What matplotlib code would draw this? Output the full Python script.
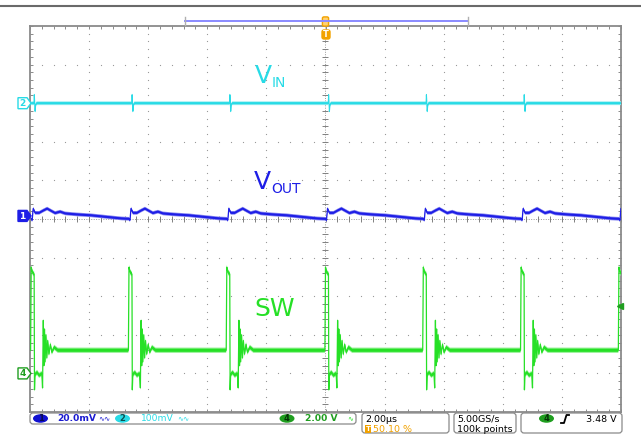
import matplotlib
matplotlib.use('Agg')
import matplotlib.pyplot as plt
import numpy as np
from matplotlib.patches import FancyBboxPatch, Polygon, Ellipse, Rectangle

# ---------------- data ----------------
time_per_div_us = 2.0          # horizontal scale
ch1_mv_per_div = 20.0          # VOUT
ch2_mv_per_div = 100.0         # VIN
ch4_v_per_div = 2.0            # SW
ch1_pos_div = 0.08             # ground-marker positions (divisions from centre)
ch2_pos_div = 3.0
ch4_pos_div = -4.0
trigger_level_v = 3.48

# rising edges of the switch node (us)
sw_edges_us = [-9.96, -6.65, -3.34, 0.0, 3.31, 6.62, 9.93]

# one switching cycle of SW (time after rising edge in us, volts)
sw_cycle_t = [-0.02, 0.0, 0.02, 0.06, 0.10, 0.112, 0.13, 0.20, 0.27, 0.36, 0.385,
              0.41, 0.43, 0.45, 0.47, 0.50, 0.53, 0.56, 0.60, 0.65, 0.70, 0.78, 0.90, 3.29]
sw_cycle_v = [1.2, 5.5, 5.35, 5.2, 5.15, -0.85, -0.05, 0.05, -0.1, 0.0, -0.75,
              2.75, 0.4, 2.3, 0.6, 2.0, 0.8, 1.7, 1.0, 1.5, 1.1, 1.35, 1.2, 1.2]
sw_noise_v = 0.14

# one cycle of VOUT (us, mV, AC coupled)
vout_cycle_t = [0.0, 0.034, 0.068, 0.135, 0.27, 0.41, 0.54, 0.68, 0.81, 0.98,
                1.15, 1.52, 2.03, 2.54, 3.05, 3.31]
vout_cycle_mv = [-1.5, -2.2, 3.8, 1.6, 1.6, 2.8, 3.8, 2.6, 1.5, 2.2,
                 1.3, 0.8, 0.3, -0.5, -1.3, -1.5]
vout_noise_mv = 0.95

# one cycle of VIN (us, mV, AC coupled)
vin_cycle_t = [0.0, 0.095, 0.105, 0.118, 0.132, 0.152, 0.186, 3.31]
vin_cycle_mv = [0.0, 0.0, 22.0, 3.0, -21.0, -4.0, 0.0, 0.0]
vin_noise_mv = 5.0

labels = {'VIN': ('V', 'IN'), 'VOUT': ('V', 'OUT'), 'SW': ('SW', '')}

# ---------------- colours ----------------
C_BLUE = '#1e1ee6'
C_CYAN = '#28dbe6'
C_GREEN = '#26e026'
C_GREEN_D = '#1f9e1f'
C_ORANGE = '#f2a200'
C_GRID = '#9a9a9a'
C_BORDER = '#8a8a8a'

W, H = 641, 437
fig = plt.figure(figsize=(W / 100, H / 100), dpi=100)

L, T, R, B = 30, 26, 621, 412
rect = [L / W, 1 - B / H, (R - L) / W, (B - T) / H]

# ---------------- graticule ----------------
ax = fig.add_axes(rect)
ax.set_xlim(-5, 5)
ax.set_ylim(-5, 5)
ax.set_xticks([])
ax.set_yticks([])
ax.set_xticks(np.arange(-5, 5.01, 0.2), minor=True)
ax.set_yticks(np.arange(-5, 5.01, 0.2), minor=True)
ax.tick_params(which='minor', direction='in', length=2.2, width=0.7, color=C_BORDER,
               top=True, right=True, labelbottom=False, labelleft=False)
for s in ax.spines.values():
    s.set_color(C_BORDER)
    s.set_linewidth(1.3)

minor = np.arange(-5, 5.01, 0.2)
for k in range(-4, 5):
    if k == 0:
        continue
    ax.plot(np.full_like(minor, k), minor, ls='none', marker='s', ms=0.8,
            mec='none', mfc=C_GRID)
    ax.plot(minor, np.full_like(minor, k), ls='none', marker='s', ms=0.8,
            mec='none', mfc=C_GRID)
# centre cross with ticks
ax.plot([0, 0], [-5, 5], color='#9a9a9a', lw=0.7, ls=(0, (1, 1.5)))
ax.plot([-5, 5], [0, 0], color='#9a9a9a', lw=0.7, ls=(0, (1, 1.5)))
ax.plot(np.zeros_like(minor), minor, ls='none', marker='_', ms=4.3, mew=0.7, color='#808080')
ax.plot(minor, np.zeros_like(minor), ls='none', marker='|', ms=4.3, mew=0.7, color='#808080')


def cycles(edges, ct, cv):
    tt, vv = [], []
    for e in edges:
        tt.extend([e + x for x in ct])
        vv.extend(cv)
    return np.array(tt), np.array(vv)


def chan_axes(scale, pos):
    a = fig.add_axes(rect)
    a.patch.set_visible(False)
    a.set_axis_off()
    a.set_xlim(-5 * time_per_div_us, 5 * time_per_div_us)
    a.set_ylim((-5 - pos) * scale, (5 - pos) * scale)
    return a


# SW
a4 = chan_axes(ch4_v_per_div, ch4_pos_div)
t, v = cycles(sw_edges_us, sw_cycle_t, sw_cycle_v)
a4.fill_between(t, v - sw_noise_v, v + sw_noise_v, color='#9cf29c', lw=0)
a4.fill_between(t, v - sw_noise_v * 0.6, v + sw_noise_v * 0.6, color=C_GREEN, lw=0)
a4.plot(t, v, color=C_GREEN, lw=0.9)
a4.plot([9.96], [trigger_level_v], marker='<', ms=4, color=C_GREEN_D, clip_on=False)

# VOUT
a1 = chan_axes(ch1_mv_per_div, ch1_pos_div)
t, v = cycles(sw_edges_us, vout_cycle_t, vout_cycle_mv)
a1.fill_between(t, v - vout_noise_mv, v + vout_noise_mv, color='#8080f0', lw=0)
a1.fill_between(t, v - vout_noise_mv * 0.55, v + vout_noise_mv * 0.55, color=C_BLUE, lw=0)
a1.plot(t, v, color=C_BLUE, lw=0.9)

# VIN
a2 = chan_axes(ch2_mv_per_div, ch2_pos_div)
t, v = cycles(sw_edges_us, vin_cycle_t, vin_cycle_mv)
a2.fill_between(t, v - vin_noise_mv, v + vin_noise_mv, color='#a0eef2', lw=0)
a2.fill_between(t, v - vin_noise_mv * 0.55, v + vin_noise_mv * 0.55, color=C_CYAN, lw=0)
a2.plot(t, v, color=C_CYAN, lw=0.8)

# ---------------- overlay in pixel coordinates ----------------
ov = fig.add_axes([0, 0, 1, 1])
ov.set_xlim(0, W)
ov.set_ylim(H, 0)
ov.set_axis_off()
ov.patch.set_visible(False)

FONT = 'DejaVu Sans'

# top line
ov.plot([0, W], [6, 6], color='#6a6a6a', lw=1.5)
# record bar
ov.plot([185, 468], [21, 21], color='#8a8aff', lw=1.4)
ov.plot([185, 185], [17, 25], color='#b0b0b0', lw=1)
ov.plot([468, 468], [17, 25], color='#b0b0b0', lw=1)
ov.add_patch(FancyBboxPatch((323, 17.5), 5, 8, boxstyle='round,pad=0.6,rounding_size=1.5',
                            fc='#ffd070', ec=C_ORANGE, lw=1))
ov.add_patch(FancyBboxPatch((322.5, 30.5), 7, 8, boxstyle='round,pad=0.5,rounding_size=2',
                            fc=C_ORANGE, ec=C_ORANGE, lw=1))
ov.text(326, 34.8, 'T', color='white', fontsize=6, fontweight='bold', ha='center',
        va='center', family=FONT)

# channel labels
ov.text(255, 83, labels['VIN'][0], color=C_CYAN, fontsize=18, family=FONT, va='baseline')
ov.text(272, 87, labels['VIN'][1], color=C_CYAN, fontsize=10, family=FONT, va='baseline')
ov.text(254, 189, labels['VOUT'][0], color=C_BLUE, fontsize=18, family=FONT, va='baseline')
ov.text(271, 193, labels['VOUT'][1], color=C_BLUE, fontsize=10, family=FONT, va='baseline')
ov.text(254, 316, labels['SW'][0], color=C_GREEN, fontsize=18, family=FONT, va='baseline')


def y_of(pos_div):
    return (T + B) / 2 - pos_div * (B - T) / 10


def marker(y, num, col, filled):
    pts = [(18, y - 5.5), (27, y - 5.5), (31, y), (27, y + 5.5), (18, y + 5.5)]
    ov.add_patch(Polygon(pts, closed=True, fc=col if filled else 'white', ec=col, lw=1,
                         zorder=5))
    ov.text(22.5, y + 0.3, num, color='white' if filled else col, fontsize=6.5,
            fontweight='bold', ha='center', va='center', family=FONT, zorder=6)


marker(y_of(ch2_pos_div), '2', C_CYAN, False)
marker(y_of(ch1_pos_div), '1', C_BLUE, True)
marker(y_of(ch4_pos_div), '4', C_GREEN_D, False)

# ---------------- status bar ----------------
def box(x0, y0, x1, y1):
    ov.add_patch(FancyBboxPatch((x0 + 2, y0 + 2), x1 - x0 - 4, y1 - y0 - 4,
                                boxstyle='round,pad=2,rounding_size=3',
                                fc='white', ec='#8a8a8a', lw=0.9))


def badge(cx, cy, num, col, tcol='black'):
    ov.add_patch(Ellipse((cx, cy), 15, 8.5, fc=col, ec='none'))
    ov.text(cx, cy + 0.3, num, color=tcol, fontsize=6, fontweight='bold', ha='center',
            va='center', family=FONT)


box(30, 413, 356, 424)
box(362, 413, 449, 433)
box(454, 413, 516, 433)
box(521, 413, 622, 433)

badge(40.5, 418.5, '1', '#1010d0', '#0a0a50')
ov.text(57, 418.8, '20.0mV', color='#1a1ad0', fontsize=6.6, fontweight='bold',
        va='center', family=FONT)
ov.text(98, 418.5, '∿∿', color='#1a1ad0', fontsize=5.2, va='center', family=FONT)
badge(122.5, 418.5, '2', C_CYAN, '#0a5050')
ov.text(141, 418.8, '100mV', color=C_CYAN, fontsize=6.6, va='center', family=FONT)
ov.text(177, 418.5, '∿∿', color=C_CYAN, fontsize=5.2, va='center', family=FONT)
badge(287, 418.5, '4', C_GREEN_D, '#063006')
ov.text(305, 418.8, '2.00 V', color=C_GREEN_D, fontsize=6.6, fontweight='bold',
        va='center', family=FONT)
ov.text(347, 418.5, '∿', color=C_GREEN, fontsize=5, va='center', family=FONT)

ov.text(365, 419, '2.00µs', color='black', fontsize=6.8, va='center', family=FONT)
ov.add_patch(Rectangle((365, 425), 6, 8, fc=C_ORANGE, ec='none'))
ov.text(368, 429.2, 'T', color='white', fontsize=5, fontweight='bold', ha='center',
        va='center', family=FONT)
ov.text(373, 429.2, '50.10 %', color=C_ORANGE, fontsize=6.8, va='center', family=FONT)

ov.text(457, 419, '5.00GS/s', color='black', fontsize=6.8, va='center', family=FONT)
ov.text(457, 429.2, '100k points', color='black', fontsize=6.8, va='center', family=FONT)

badge(546.5, 418.5, '4', C_GREEN_D, '#063006')
ov.plot([561, 564, 566.5, 569], [423, 423, 415, 415], color='black', lw=1.3)
ov.text(617, 419, '3.48 V', color='black', fontsize=6.8, ha='right', va='center',
        family=FONT)

fig.savefig('out.png', dpi=100)
